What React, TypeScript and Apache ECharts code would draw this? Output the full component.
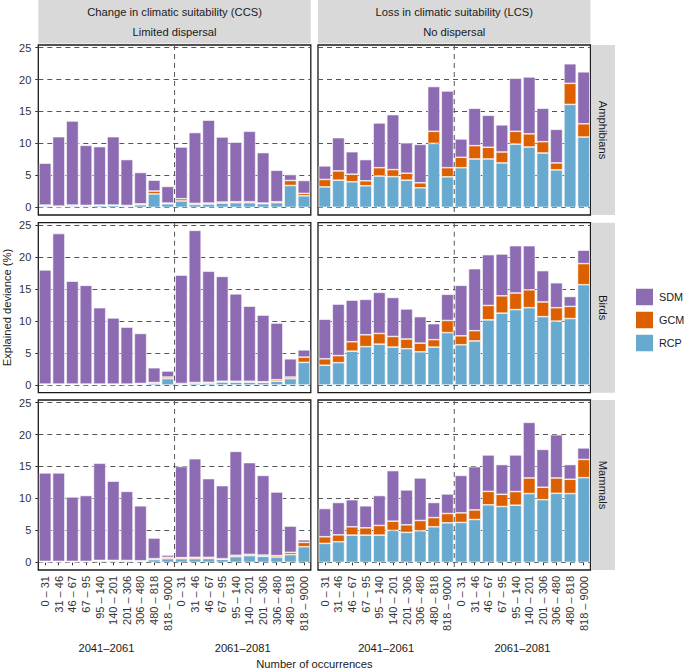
import React, { useEffect, useRef } from "react";
import * as echarts from "echarts";

const bins = ["0 – 31", "31 – 46", "46 – 67", "67 – 95", "95 – 140", "140 – 201", "201 – 306", "306 – 480", "480 – 818", "818 – 9000"];
const periods = ["2041–2061", "2061–2081"];
const columnTitles = [
  ["Change in climatic suitability (CCS)", "Limited dispersal"],
  ["Loss in climatic suitability (LCS)", "No dispersal"],
];
const taxa = ["Amphibians", "Birds", "Mammals"];
const yTicks = [0, 5, 10, 15, 20, 25];
const components = ["RCP", "GCM", "SDM"];
const legendOrder = ["SDM", "GCM", "RCP"];

// Amphibians
const amphCcsRcp = [0.2, 0.1, 0.2, 0.2, 0.25, 0.3, 0.2, 0.4, 2.1, 0.55, 1.0, 0.45, 0.52, 0.67, 0.72, 0.72, 0.57, 0.72, 3.42, 1.8];
const amphCcsGcm = [0.15, 0.1, 0.15, 0.1, 0.1, 0.05, 0.1, 0.15, 0.45, 0.12, 0.35, 0.17, 0.15, 0.16, 0.16, 0.16, 0.1, 0.16, 0.78, 0.38];
const amphCcsSdm = [6.55, 10.85, 13.15, 9.4, 9.15, 10.7, 7.17, 4.9, 1.7, 2.6, 8.09, 11.08, 12.97, 10.17, 9.32, 11.02, 7.89, 4.92, 0.93, 2.02];
const amphLcsRcp = [3.2, 4.25, 4.0, 3.37, 4.9, 4.8, 4.25, 3.06, 10.0, 4.77, 6.2, 7.57, 7.57, 6.95, 9.9, 9.44, 8.5, 5.86, 16.1, 11.0];
const amphLcsGcm = [1.16, 1.45, 1.19, 0.78, 1.3, 1.1, 1.09, 0.78, 1.9, 1.43, 1.63, 2.08, 1.83, 1.71, 2.0, 2.06, 1.77, 1.09, 3.3, 2.07];
const amphLcsSdm = [2.12, 5.2, 3.51, 3.32, 7.0, 8.6, 4.76, 6.01, 7.0, 12.0, 2.87, 5.85, 5.0, 4.24, 8.3, 8.9, 5.23, 5.25, 3.06, 8.13];

// Birds
const birdCcsRcp = [0.1, 0.1, 0.1, 0.1, 0.1, 0.1, 0.1, 0.15, 0.3, 0.99, 0.15, 0.3, 0.3, 0.47, 0.45, 0.45, 0.42, 0.6, 0.99, 3.54];
const birdCcsGcm = [0.05, 0.05, 0.05, 0.05, 0.05, 0.05, 0.05, 0.1, 0.1, 0.26, 0.1, 0.1, 0.12, 0.13, 0.15, 0.15, 0.1, 0.23, 0.26, 0.83];
const birdCcsSdm = [17.85, 23.55, 16.1, 15.45, 11.95, 10.35, 8.91, 7.82, 2.3, 0.94, 16.95, 23.8, 17.38, 16.4, 13.67, 11.74, 10.42, 8.86, 2.85, 1.13];
const birdLcsRcp = [3.1, 3.5, 5.3, 6.0, 6.4, 5.94, 5.68, 5.2, 5.94, 8.2, 6.3, 6.9, 10.2, 11.25, 11.8, 12.1, 10.7, 10.0, 10.4, 15.7];
const birdLcsGcm = [1.0, 1.1, 1.47, 1.86, 1.67, 1.66, 1.52, 1.36, 1.16, 1.9, 1.4, 1.6, 2.25, 2.71, 2.6, 2.8, 2.3, 2.1, 1.9, 3.3];
const birdLcsSdm = [6.2, 8.06, 6.51, 5.54, 6.43, 6.1, 4.7, 4.14, 2.5, 4.1, 7.9, 9.7, 7.95, 6.54, 7.4, 6.9, 4.9, 3.9, 1.55, 2.1];

// Mammals
const mammCcsRcp = [0.1, 0.1, 0.1, 0.1, 0.2, 0.2, 0.2, 0.15, 0.42, 0.57, 0.57, 0.57, 0.6, 0.47, 0.88, 1.04, 0.94, 0.83, 1.2, 2.44];
const mammCcsGcm = [0.05, 0.05, 0.05, 0.05, 0.1, 0.1, 0.1, 0.1, 0.15, 0.21, 0.16, 0.21, 0.18, 0.1, 0.22, 0.21, 0.2, 0.21, 0.36, 0.68];
const mammCcsSdm = [13.85, 13.85, 10.09, 10.3, 15.2, 12.4, 10.8, 8.59, 3.23, 0.36, 14.27, 15.42, 12.32, 11.43, 16.26, 14.35, 12.46, 9.96, 4.11, 0.41];
const mammLcsRcp = [2.96, 3.22, 4.26, 4.26, 4.26, 4.99, 4.68, 4.94, 5.56, 6.18, 6.24, 6.7, 9.0, 8.73, 8.94, 10.76, 9.8, 10.8, 10.76, 13.25];
const mammLcsGcm = [1.04, 1.08, 1.3, 1.14, 1.51, 1.45, 1.19, 1.61, 1.44, 1.46, 1.5, 1.5, 2.1, 1.92, 2.13, 2.44, 1.95, 2.4, 2.24, 2.85];
const mammLcsSdm = [4.42, 5.06, 4.24, 3.44, 4.68, 7.91, 5.46, 6.65, 2.36, 3.06, 5.86, 6.77, 5.7, 4.65, 5.73, 8.7, 5.92, 6.76, 2.3, 1.8];

const panels = [
  [amphCcsRcp, amphCcsGcm, amphCcsSdm],
  [amphLcsRcp, amphLcsGcm, amphLcsSdm],
  [birdCcsRcp, birdCcsGcm, birdCcsSdm],
  [birdLcsRcp, birdLcsGcm, birdLcsSdm],
  [mammCcsRcp, mammCcsGcm, mammCcsSdm],
  [mammLcsRcp, mammLcsGcm, mammLcsSdm],
];

const COLORS: Record<string, string> = { SDM: "#8d6bb2", GCM: "#dd6000", RCP: "#67a9cf" };
const FONT = "'Liberation Sans', Arial, Helvetica, sans-serif";
const COL_LEFT = [38.3, 318];
const COL_W = 272.5;
const ROW_TOP = [45, 222.7, 400];
const ROW_H = 170;
const TEXT = "#1a1a1a";
const AXIS_TEXT = "#333333";
const GRID_LINE = "#555555";

export default function App() {
  const ref = useRef<HTMLDivElement>(null);

  useEffect(() => {
    if (!ref.current) return;
    const chart = echarts.init(ref.current, undefined, { renderer: "svg" });

    const catKeys = periods.flatMap((p) => bins.map((b) => p + " " + b));

    const grids: any[] = [];
    const xAxes: any[] = [];
    const yAxes: any[] = [];
    const series: any[] = [];
    const graphics: any[] = [];

    const txt = (text: string, x: number, y: number, rotation = 0) => ({
      type: "text",
      x,
      y,
      rotation,
      style: {
        text,
        fontSize: 11.2,
        fontFamily: FONT,
        fill: TEXT,
        align: "center",
        verticalAlign: "middle",
        textAlign: "center",
        textVerticalAlign: "middle",
      },
    });

    panels.forEach((pd, pi) => {
      const row = Math.floor(pi / 2);
      const col = pi % 2;
      grids.push({
        left: COL_LEFT[col],
        top: ROW_TOP[row],
        width: COL_W,
        height: ROW_H,
        show: true,
        borderColor: "#1a1a1a",
        borderWidth: 1.3,
        backgroundColor: "transparent",
      });
      xAxes.push({
        gridIndex: pi,
        type: "category",
        data: catKeys,
        axisLine: { show: false },
        axisTick: { show: row === 2, alignWithLabel: true, interval: 0, length: 3, lineStyle: { color: AXIS_TEXT } },
        axisLabel: {
          show: row === 2,
          interval: 0,
          rotate: 90,
          fontSize: 11,
          fontFamily: FONT,
          color: AXIS_TEXT,
          margin: 6,
          formatter: (_v: string, i: number) => bins[i % bins.length],
        },
        splitLine: { show: false },
      });
      yAxes.push({
        gridIndex: pi,
        type: "value",
        min: -1.2,
        max: 25.4,
        axisLine: { show: false },
        axisTick: { show: col === 0, length: 3, customValues: yTicks, lineStyle: { color: AXIS_TEXT } },
        axisLabel: { show: col === 0, customValues: yTicks, fontSize: 11, fontFamily: FONT, color: AXIS_TEXT, margin: 7 },
        splitLine: { show: true, lineStyle: { color: GRID_LINE, width: 1, type: [5, 4] } },
      });
      components.forEach((name, ci) => {
        series.push({
          type: "bar",
          name,
          xAxisIndex: pi,
          yAxisIndex: pi,
          stack: "p" + pi,
          data: pd[ci],
          barCategoryGap: "10%",
          itemStyle: { color: COLORS[name], borderColor: "#ffffff", borderWidth: 0.6 },
        });
      });
      const cx = COL_LEFT[col] + COL_W / 2;
      graphics.push({
        type: "line",
        z: 10,
        shape: { x1: cx, y1: ROW_TOP[row], x2: cx, y2: ROW_TOP[row] + ROW_H },
        style: { stroke: GRID_LINE, lineWidth: 1, lineDash: [5, 4] },
      });
    });

    columnTitles.forEach((lines, col) => {
      graphics.push({
        type: "rect",
        shape: { x: COL_LEFT[col], y: 0, width: COL_W, height: 43.5 },
        style: { fill: "#d9d9d9" },
      });
      lines.forEach((t, li) => {
        graphics.push(txt(t, COL_LEFT[col] + COL_W / 2, li === 0 ? 11.7 : 31.7));
      });
    });

    taxa.forEach((t, row) => {
      graphics.push({
        type: "rect",
        shape: { x: 591.7, y: ROW_TOP[row], width: 23.3, height: ROW_H },
        style: { fill: "#d9d9d9" },
      });
      graphics.push(txt(t, 603.3, ROW_TOP[row] + ROW_H / 2, -Math.PI / 2));
    });

    [0, 1].forEach((col) => {
      periods.forEach((p, pi) => {
        graphics.push(txt(p, COL_LEFT[col] + COL_W * (pi === 0 ? 0.25 : 0.75), 648));
      });
    });

    graphics.push(txt("Number of occurrences", (COL_LEFT[0] + COL_LEFT[1] + COL_W) / 2, 664));
    graphics.push(txt("Explained deviance (%)", 7, (ROW_TOP[0] + ROW_TOP[2] + ROW_H) / 2, Math.PI / 2));

    chart.setOption({
      animation: false,
      textStyle: { fontFamily: FONT },
      grid: grids,
      xAxis: xAxes,
      yAxis: yAxes,
      series,
      legend: {
        data: legendOrder,
        orient: "vertical",
        left: 634,
        top: 286.7,
        padding: 0,
        itemWidth: 19,
        itemHeight: 18.5,
        itemGap: 2.5,
        icon: "rect",
        selectedMode: false,
        textStyle: { fontSize: 10.8, fontFamily: FONT, color: TEXT },
      },
      graphic: { elements: graphics },
    });

    return () => chart.dispose();
  }, []);

  return <div ref={ref} style={{ position: "absolute", left: 0, top: 0, width: 685, height: 669 }} />;
}
